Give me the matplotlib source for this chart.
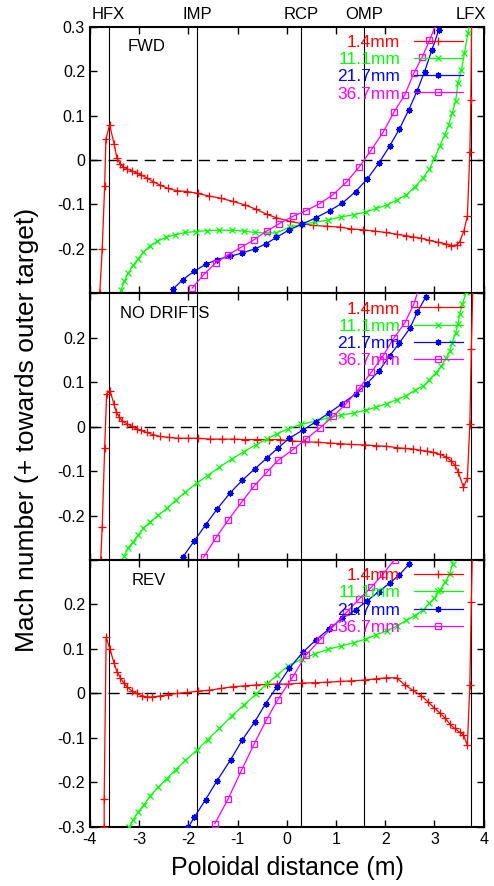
import matplotlib
matplotlib.use('Agg')
import matplotlib.pyplot as plt
import numpy as np

plt.rcParams['font.family'] = ['Liberation Sans', 'DejaVu Sans']
plt.rcParams['axes.unicode_minus'] = False

# positions of the special points along the poloidal distance
loc_names = ['HFX', 'IMP', 'RCP', 'OMP', 'LFX']
loc_x = [-3.62, -1.82, 0.29, 1.57, 3.74]

labels = ['1.4mm', '11.1mm', '21.7mm', '36.7mm']
colors = ['#ff0000', '#00ff00', '#0000ff', '#ff00ff']
panel_names = ['FWD', 'NO DRIFTS', 'REV']

# ---------------- FWD ----------------
fwd_x1 = [-3.80, -3.75, -3.70, -3.675, -3.60, -3.51, -3.45, -3.39, -3.32, -3.25, -3.15, -3.05, -2.97,
          -2.85, -2.71, -2.58, -2.41, -2.23, -2.02, -1.81, -1.58, -1.34, -1.10, -0.85, -0.62, -0.41,
          -0.21, 0.06, 0.30, 0.53, 0.81, 1.08, 1.31, 1.55, 1.79, 2.01, 2.23, 2.42, 2.56, 2.73, 2.90,
          3.07, 3.24, 3.34, 3.45, 3.51, 3.60, 3.67, 3.72, 3.74, 3.76]
fwd_y1 = [-0.30, -0.20, -0.058, 0.047, 0.079, 0.037, 0.004, -0.008, -0.016, -0.020, -0.024, -0.029,
          -0.033, -0.040, -0.049, -0.056, -0.064, -0.069, -0.071, -0.075, -0.081, -0.086, -0.093,
          -0.101, -0.111, -0.122, -0.130, -0.138, -0.143, -0.147, -0.149, -0.151, -0.155, -0.157,
          -0.160, -0.163, -0.167, -0.170, -0.173, -0.176, -0.181, -0.185, -0.189, -0.193, -0.191,
          -0.185, -0.159, -0.126, 0.017, 0.135, 0.35]
fwd_x2 = [-3.37, -3.30, -3.22, -3.12, -3.02, -2.92, -2.78, -2.63, -2.46, -2.27, -2.06, -1.85, -1.63,
          -1.38, -1.12, -0.87, -0.65, -0.41, -0.21, 0.06, 0.30, 0.57, 0.84, 1.11, 1.36, 1.60, 1.82,
          2.04, 2.24, 2.43, 2.60, 2.77, 2.90, 3.00, 3.11, 3.21, 3.29, 3.36, 3.43, 3.48, 3.55, 3.61,
          3.68, 3.72]
fwd_y2 = [-0.293, -0.273, -0.254, -0.237, -0.222, -0.208, -0.193, -0.183, -0.174, -0.168, -0.163,
          -0.161, -0.159, -0.158, -0.158, -0.160, -0.163, -0.164, -0.164, -0.151, -0.145, -0.140,
          -0.135, -0.128, -0.123, -0.117, -0.109, -0.101, -0.090, -0.078, -0.061, -0.040, -0.020,
          0.004, 0.031, 0.057, 0.079, 0.106, 0.132, 0.173, 0.203, 0.240, 0.285, 0.31]
fwd_x3 = [-2.32, -2.11, -1.88, -1.65, -1.42, -1.16, -0.90, -0.65, -0.43, -0.21, 0.05, 0.30, 0.59,
          0.87, 1.13, 1.40, 1.64, 1.87, 2.09, 2.29, 2.48, 2.65, 2.80, 2.95, 3.09, 3.12]
fwd_y3 = [-0.291, -0.269, -0.250, -0.235, -0.224, -0.217, -0.209, -0.200, -0.189, -0.174, -0.157,
          -0.145, -0.130, -0.114, -0.097, -0.071, -0.042, -0.007, 0.031, 0.070, 0.113, 0.156, 0.199,
          0.248, 0.293, 0.31]
fwd_x4 = [-1.92, -1.69, -1.44, -1.19, -0.92, -0.66, -0.41, -0.15, 0.12, 0.39, 0.67, 0.94, 1.21, 1.47,
          1.72, 1.96, 2.18, 2.40, 2.58, 2.75, 2.90, 3.05]
fwd_y4 = [-0.288, -0.258, -0.231, -0.213, -0.196, -0.179, -0.160, -0.143, -0.127, -0.114, -0.098,
          -0.078, -0.050, -0.016, 0.023, 0.063, 0.108, 0.147, 0.195, 0.231, 0.269, 0.31]

# ---------------- NO DRIFTS ----------------
nod_x1 = [-3.78, -3.75, -3.70, -3.66, -3.59, -3.51, -3.46, -3.40, -3.34, -3.25, -3.15, -3.05, -2.97,
          -2.85, -2.71, -2.58, -2.40, -2.21, -2.00, -1.80, -1.56, -1.32, -1.08, -0.85, -0.61, -0.37,
          -0.14, 0.10, 0.37, 0.64, 0.87, 1.08, 1.31, 1.58, 1.82, 2.02, 2.23, 2.40, 2.56, 2.70, 2.84,
          2.97, 3.11, 3.24, 3.34, 3.41, 3.48, 3.59, 3.67, 3.72, 3.75, 3.78]
nod_y1 = [-0.300, -0.225, -0.048, 0.074, 0.081, 0.050, 0.032, 0.022, 0.012, 0.007, 0.001, -0.005,
          -0.008, -0.013, -0.018, -0.022, -0.024, -0.026, -0.026, -0.026, -0.028, -0.028, -0.028,
          -0.029, -0.029, -0.029, -0.029, -0.032, -0.034, -0.035, -0.037, -0.038, -0.040, -0.041,
          -0.043, -0.044, -0.047, -0.049, -0.050, -0.053, -0.055, -0.058, -0.062, -0.068, -0.077,
          -0.086, -0.101, -0.136, -0.116, 0.005, 0.174, 0.31]
nod_x2 = [-3.30, -3.22, -3.12, -3.02, -2.92, -2.77, -2.61, -2.44, -2.26, -2.06, -1.83, -1.61, -1.37,
          -1.12, -0.87, -0.63, -0.41, -0.20, 0.03, 0.28, 0.57, 0.84, 1.11, 1.36, 1.60, 1.82, 2.04,
          2.24, 2.43, 2.60, 2.77, 2.90, 3.03, 3.14, 3.24, 3.31, 3.36, 3.43, 3.48, 3.51, 3.57, 3.64]
nod_y2 = [-0.290, -0.272, -0.259, -0.244, -0.229, -0.214, -0.199, -0.184, -0.166, -0.147, -0.127,
          -0.110, -0.091, -0.073, -0.056, -0.041, -0.028, -0.016, -0.005, 0.005, 0.012, 0.020, 0.026,
          0.031, 0.037, 0.044, 0.052, 0.061, 0.070, 0.082, 0.091, 0.106, 0.121, 0.136, 0.155, 0.170,
          0.189, 0.211, 0.230, 0.253, 0.275, 0.302]
nod_x3 = [-2.11, -1.88, -1.65, -1.42, -1.16, -0.90, -0.65, -0.41, -0.18, 0.05, 0.32, 0.59, 0.86,
          1.13, 1.40, 1.63, 1.87, 2.09, 2.29, 2.50, 2.65, 2.82, 2.86]
nod_y3 = [-0.293, -0.257, -0.221, -0.186, -0.150, -0.120, -0.095, -0.071, -0.048, -0.026, -0.008,
          0.011, 0.031, 0.052, 0.074, 0.097, 0.125, 0.159, 0.189, 0.221, 0.257, 0.291, 0.31]
nod_x4 = [-1.69, -1.44, -1.19, -0.92, -0.66, -0.41, -0.18, 0.12, 0.39, 0.67, 0.94, 1.21, 1.47, 1.72,
          1.96, 2.18, 2.40, 2.58, 2.68]
nod_y4 = [-0.294, -0.250, -0.210, -0.170, -0.133, -0.103, -0.076, -0.052, -0.028, -0.003, 0.023,
          0.052, 0.086, 0.123, 0.160, 0.200, 0.234, 0.275, 0.31]

# ---------------- REV ----------------
rev_x1 = [-3.71, -3.71, -3.67, -3.59, -3.51, -3.45, -3.38, -3.31, -3.24, -3.15, -3.05, -2.95, -2.85,
          -2.73, -2.58, -2.41, -2.23, -2.02, -1.81, -1.58, -1.34, -1.09, -0.85, -0.62, -0.40, -0.20,
          0.03, 0.30, 0.57, 0.81, 1.08, 1.31, 1.58, 1.82, 2.02, 2.23, 2.40, 2.56, 2.73, 2.87, 2.99,
          3.11, 3.22, 3.32, 3.41, 3.51, 3.59, 3.67, 3.72, 3.75, 3.77]
rev_y1 = [-0.301, -0.237, 0.126, 0.099, 0.068, 0.049, 0.035, 0.023, 0.014, 0.006, 0.000, -0.005,
          -0.008, -0.008, -0.006, -0.003, 0.000, 0.002, 0.005, 0.007, 0.011, 0.015, 0.017, 0.019,
          0.020, 0.021, 0.021, 0.023, 0.024, 0.025, 0.027, 0.028, 0.030, 0.033, 0.035, 0.035, 0.019,
          0.007, -0.005, -0.019, -0.032, -0.044, -0.056, -0.070, -0.079, -0.087, -0.093, -0.117,
          0.019, 0.205, 0.31]
rev_x2 = [-3.20, -3.12, -3.02, -2.90, -2.77, -2.61, -2.44, -2.26, -2.06, -1.83, -1.61, -1.37, -1.12,
          -0.87, -0.63, -0.41, -0.20, 0.03, 0.30, 0.57, 0.84, 1.11, 1.36, 1.60, 1.82, 2.04, 2.24,
          2.43, 2.60, 2.77, 2.90, 3.00, 3.11, 3.22, 3.31, 3.37, 3.40]
rev_y2 = [-0.301, -0.284, -0.267, -0.250, -0.230, -0.211, -0.192, -0.172, -0.151, -0.128, -0.104,
          -0.079, -0.051, -0.026, -0.002, 0.021, 0.041, 0.062, 0.077, 0.089, 0.099, 0.107, 0.114,
          0.122, 0.132, 0.141, 0.152, 0.164, 0.175, 0.188, 0.203, 0.214, 0.232, 0.250, 0.269, 0.292,
          0.31]
rev_x3 = [-2.00, -1.88, -1.65, -1.42, -1.14, -0.90, -0.65, -0.43, -0.20, 0.05, 0.32, 0.59, 0.86,
          1.13, 1.40, 1.63, 1.87, 2.09, 2.29, 2.48, 2.55]
rev_y3 = [-0.301, -0.279, -0.239, -0.197, -0.149, -0.104, -0.064, -0.023, 0.015, 0.056, 0.092, 0.120,
          0.145, 0.169, 0.188, 0.208, 0.229, 0.248, 0.267, 0.290, 0.31]
rev_x4 = [-1.46, -1.19, -0.92, -0.66, -0.41, -0.18, 0.12, 0.39, 0.67, 0.94, 1.21, 1.47, 1.72, 1.96,
          2.19]
rev_y4 = [-0.293, -0.237, -0.173, -0.113, -0.059, -0.014, 0.037, 0.086, 0.120, 0.150, 0.182, 0.212,
          0.239, 0.269, 0.301]

panels = [
    [(fwd_x1, fwd_y1), (fwd_x2, fwd_y2), (fwd_x3, fwd_y3), (fwd_x4, fwd_y4)],
    [(nod_x1, nod_y1), (nod_x2, nod_y2), (nod_x3, nod_y3), (nod_x4, nod_y4)],
    [(rev_x1, rev_y1), (rev_x2, rev_y2), (rev_x3, rev_y3), (rev_x4, rev_y4)],
]
name_x = [-3.23, -3.39, -3.15]

markers = ['+', 'x', (8, 2, 0), 's']
msizes = [5.5, 4.5, 4.5, 4.5]

fig = plt.figure(figsize=(4.94, 8.86), dpi=100)
left, width = 0.182, 0.797
h = 0.301
bottoms = [0.0669 + 2 * h, 0.0669 + h, 0.0669]
yt = [0.3, 0.2, 0.1, 0, -0.1, -0.2, -0.3]
ytl = ['0.3', '0.2', '0.1', '0', '-0.1', '-0.2', '-0.3']

axes = []
for i in range(3):
    ax = fig.add_axes([left, bottoms[i], width, h])
    axes.append(ax)
    for xv in loc_x:
        ax.axvline(xv, color='black', lw=0.8, zorder=1)
    ax.axhline(0, color='black', lw=1, ls=(0, (8, 5)), zorder=1)
    for j, (xs, ys) in enumerate(panels[i]):
        mfc = 'none' if markers[j] == 's' else colors[j]
        ax.plot(xs, ys, color=colors[j], lw=0.9, marker=markers[j], ms=msizes[j],
                mfc=mfc, mew=0.9, label=labels[j], zorder=3)
    ax.set_xlim(-4, 4)
    ax.set_ylim(-0.3, 0.3)
    ax.set_xticks(range(-4, 5))
    ax.set_yticks(yt)
    lab = list(ytl)
    if i == 0:
        lab[-1] = ''
    elif i == 1:
        lab[0] = ''
        lab[-1] = ''
    else:
        lab[0] = ''
    ax.set_yticklabels(lab)
    if i < 2:
        ax.set_xticklabels([])
    ax.tick_params(direction='in', length=5, width=1, top=True, right=True, labelsize=11.5)
    for s in ax.spines.values():
        s.set_linewidth(1.5)
    ax.text(name_x[i], 0.255, panel_names[i], fontsize=12, ha='left', va='center')
    leg = ax.legend(loc='upper right', bbox_to_anchor=(0.947, 0.97), frameon=False,
                    markerfirst=False, fontsize=12.5, handlelength=2.8, handletextpad=0.8,
                    labelspacing=0.12, borderpad=0, borderaxespad=0, labelcolor='linecolor')
    for t in leg.get_texts():
        t.set_ha('right')

ax0 = axes[0]
for nm, xv in zip(loc_names, loc_x):
    ax0.text(xv, 1.045, nm, transform=ax0.get_xaxis_transform(), ha='center', va='center',
             fontsize=12)

fig.text(27 / 494, 1 - 430 / 886, 'Mach number (+ towards outer target)', rotation=90,
         ha='center', va='center', fontsize=19)
fig.text(287 / 494, 1 - 868 / 886, 'Poloidal distance (m)', ha='center', va='center', fontsize=18)

fig.savefig('out.png', dpi=100)
